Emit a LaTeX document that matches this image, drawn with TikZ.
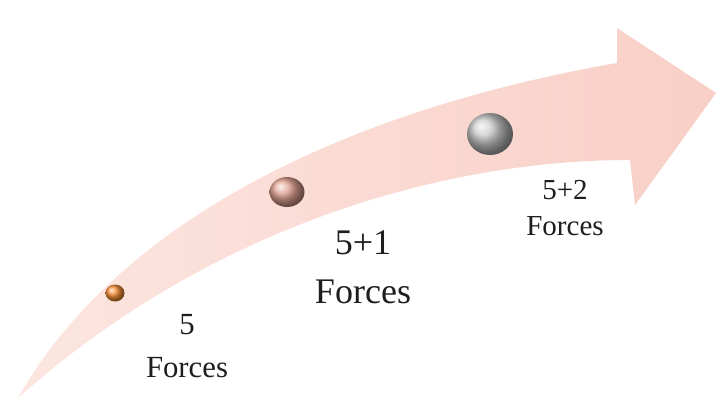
\documentclass[tikz,border=0pt]{standalone}
\usepackage{fontspec}
\setmainfont{Liberation Serif}
\usetikzlibrary{shapes.geometric}
\definecolor{arrowpink}{HTML}{F8CFC6}
\definecolor{arrowlight}{HTML}{FCE6E0}
\definecolor{orangeball}{HTML}{F89038}
\definecolor{copperball}{HTML}{E4A595}
\definecolor{silverball}{HTML}{CACACA}
\definecolor{ink}{HTML}{1E1E1E}

\begin{document}
\begin{tikzpicture}[x=0.02cm,y=0.02cm,
  sphere/.style={ellipse,inner sep=0pt},
  lbl/.style={align=center,text=ink}]
  \useasboundingbox (0,0) rectangle (716,400);
  \fill[white] (0,0) rectangle (716,400);

  % ===== curved arrow =====
  \shade[left color=arrowlight,right color=arrowpink]
    (18,2) .. controls (110,165) and (320,285) .. (617,337)
    -- (617,372) -- (716,307) -- (635,195) -- (630,240)
    .. controls (430,240) and (200,165) .. (18,2) -- cycle;

  % ===== spheres =====
  \node[sphere,ball color=orangeball,minimum width=0.38cm,minimum height=0.34cm] (ball1) at (115,107) {};
  \node[sphere,ball color=copperball,minimum width=0.7cm,minimum height=0.6cm] (ball2) at (287,208) {};
  \node[sphere,ball color=silverball,minimum width=0.92cm,minimum height=0.84cm] (ball3) at (490,266) {};

  % ===== labels =====
  \node[lbl,font=\fontsize{17.5}{24}\selectfont] (force1) at (187,54) {5\\Forces};
  \node[lbl,font=\fontsize{20.5}{28}\selectfont] (force2) at (363,133) {5+1\\Forces};
  \node[lbl,font=\fontsize{16.5}{21}\selectfont] (force3) at (565,192) {5+2\\Forces};
\end{tikzpicture}
\end{document}
